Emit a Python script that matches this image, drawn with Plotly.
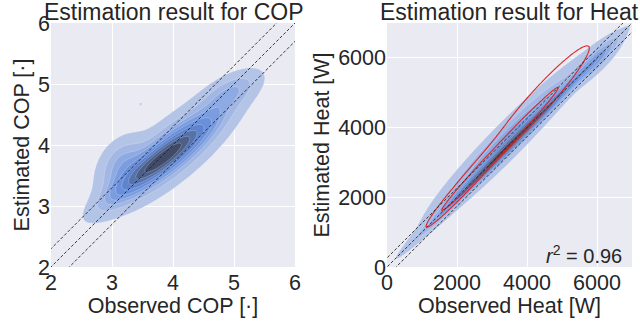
import numpy as np
import plotly.graph_objects as go

# ---------------- data ----------------
# Gaussian-mixture description of the KDE shapes: centre x, centre y,
# spread along the main axis, spread across it, axis angle (deg), weight
cop_cx = [3.80, 3.98, 3.15, 4.95, 3.47]
cop_cy = [3.76, 3.90, 3.70, 4.88, 4.67]
cop_sa = [0.62, 0.75, 0.30, 0.33, 0.012]
cop_sc = [0.13, 0.24, 0.20, 0.15, 0.012]
cop_ang = [38, 40, 55, 30, 0]
cop_w = [0.8, 1.0, 0.17, 0.12, 0.0004]

heat_cx = [3500, 3450, 6000]
heat_cy = [3480, 3650, 5950]
heat_sa = [1750, 1750, 550]
heat_sc = [90, 240, 160]
heat_ang = [45, 45.6, 45]
heat_w = [1.0, 0.9, 0.15]

# red outline: outer and inner contour, each from its own small mixture
red_out_cx = [2700, 4380]
red_out_cy = [2900, 4800]
red_out_sa = [1100, 1120]
red_out_sc = [95, 170]
red_out_ang = [48, 48]
red_out_w = [1.0, 1.0]

red_in_cx = [3229]
red_in_cy = [3390]
red_in_sa = [1130]
red_in_sc = [62]
red_in_ang = [46.7]
red_in_w = [1.0]
red_level = 0.1

cop_offsets = [-0.3, 0.0, 0.3]
heat_offsets = [-260, 0, 260]
cop_ticks = [2, 3, 4, 5, 6]
heat_ticks = [0, 2000, 4000, 6000]
r2_value = 0.96

# seaborn-like sequential palette from C0 (light -> dark), 9 bands
band_colors = ["#b4c4e6", "#a2b7e4", "#8eaae2", "#7b9ddf", "#6a90db",
               "#5f83cc", "#5672ac", "#4c5f88", "#414b68"]


def mixture(gx, gy, cx, cy, sa, sc, ang, w):
    X, Y = np.meshgrid(gx, gy)
    d = np.zeros_like(X)
    for i in range(len(cx)):
        t = np.deg2rad(ang[i])
        u = (X - cx[i]) * np.cos(t) + (Y - cy[i]) * np.sin(t)
        v = -(X - cx[i]) * np.sin(t) + (Y - cy[i]) * np.cos(t)
        d += w[i] / (2 * np.pi * sa[i] * sc[i]) * np.exp(-0.5 * (u**2 / sa[i]**2 + v**2 / sc[i]**2))
    return d


def iso_prop(d):
    flat = d.ravel()
    order = np.argsort(flat)
    cum = np.cumsum(flat[order]) / flat.sum()
    z = np.empty_like(flat)
    z[order] = cum
    return z.reshape(d.shape)


nlev = 9
start = 0.05
size = (1 - 0.05) / 9
cs = [[0, "rgba(0,0,0,0)"]]
for k, c in enumerate(band_colors):
    cs.append([(k + 1) / nlev, c])


def filled(gx, gy, d, xa, ya):
    return go.Contour(x=gx, y=gy, z=iso_prop(d), xaxis=xa, yaxis=ya,
                      contours=dict(start=start, end=start + 8 * size, size=size, coloring="fill"),
                      colorscale=cs, showscale=False, hoverinfo="skip",
                      line=dict(width=0.6, color="rgba(255,255,255,0.35)"))


def outline(gx, gy, d):
    return go.Contour(x=gx, y=gy, z=iso_prop(d), xaxis="x2", yaxis="y2",
                      contours=dict(start=red_level, end=red_level, size=1, coloring="none"),
                      line=dict(color="#d62728", width=1.1), showscale=False, hoverinfo="skip")


fig = go.Figure()

gx = np.linspace(1, 7, 300)
gy = np.linspace(1, 7, 300)
fig.add_trace(filled(gx, gy, mixture(gx, gy, cop_cx, cop_cy, cop_sa, cop_sc, cop_ang, cop_w), "x", "y"))

hx = np.linspace(-1500, 9000, 400)
hy = np.linspace(-1500, 9000, 400)
fig.add_trace(filled(hx, hy, mixture(hx, hy, heat_cx, heat_cy, heat_sa, heat_sc, heat_ang, heat_w), "x2", "y2"))

fig.add_trace(outline(hx, hy, mixture(hx, hy, red_out_cx, red_out_cy, red_out_sa, red_out_sc, red_out_ang, red_out_w)))
fig.add_trace(outline(hx, hy, mixture(hx, hy, red_in_cx, red_in_cy, red_in_sa, red_in_sc, red_in_ang, red_in_w)))

for off in cop_offsets:
    fig.add_trace(go.Scatter(x=[1, 7], y=[1 + off, 7 + off], mode="lines", xaxis="x", yaxis="y",
                             line=dict(color="#222222", width=0.9, dash="3px,2px"), hoverinfo="skip"))
for off in heat_offsets:
    fig.add_trace(go.Scatter(x=[-1000, 8000], y=[-1000 + off, 8000 + off], mode="lines", xaxis="x2", yaxis="y2",
                             line=dict(color="#222222", width=0.9, dash="3px,2px"), hoverinfo="skip"))

FONT = "Liberation Sans, Arial, sans-serif"
TXT = "#262626"
W, H = 640, 323
xd1 = [51 / W, 295 / W]
xd2 = [387 / W, 632 / W]
yd = [(H - 267) / H, (H - 23) / H]

ax_common = dict(showgrid=True, gridcolor="white", gridwidth=1.3, zeroline=False, showline=False,
                 ticks="", automargin=False, tickfont=dict(family=FONT, size=21.5, color=TXT),
                 title_font=dict(family=FONT, size=21.5, color=TXT))

fig.update_layout(
    width=W, height=H, margin=dict(l=0, r=0, t=0, b=0),
    paper_bgcolor="white", plot_bgcolor="#eaeaf2", showlegend=False,
    xaxis=dict(domain=xd1, range=[2, 6], tickvals=cop_ticks, anchor="y",
               title=dict(text="Observed COP [·]", standoff=0), **ax_common),
    yaxis=dict(domain=yd, range=[2, 6], tickvals=cop_ticks, anchor="x",
               title=dict(text="Estimated COP [·]", standoff=2), **ax_common),
    xaxis2=dict(domain=xd2, range=[0, 7000], tickvals=heat_ticks, anchor="y2",
                title=dict(text="Observed Heat [W]", standoff=0), **ax_common),
    yaxis2=dict(domain=yd, range=[0, 7000], tickvals=heat_ticks, anchor="x2",
                title=dict(text="Estimated Heat [W]", standoff=2), **ax_common),
    annotations=[
        dict(text="Estimation result for COP", x=(xd1[0] + xd1[1]) / 2, y=yd[1], xref="paper", yref="paper",
             xanchor="center", yanchor="bottom", yshift=-4, showarrow=False,
             font=dict(family=FONT, size=23, color=TXT)),
        dict(text="Estimation result for Heat", x=(xd2[0] + xd2[1]) / 2, y=yd[1], xref="paper", yref="paper",
             xanchor="center", yanchor="bottom", yshift=-4, showarrow=False,
             font=dict(family=FONT, size=23, color=TXT)),
        dict(text="<i>r</i><sup>2</sup> = %.2f" % r2_value, x=6760, y=350, xref="x2", yref="y2",
             xanchor="right", yanchor="middle", showarrow=False,
             font=dict(family=FONT, size=20, color=TXT)),
    ],
)

fig.write_html("out.html", config={"displayModeBar": False})
with open("out.html", encoding="utf-8") as f:
    html = f.read()
html = html.replace("<head>", "<head><style>html,body{margin:0;padding:0;overflow:hidden;}</style>", 1)
with open("out.html", "w", encoding="utf-8") as f:
    f.write(html)
